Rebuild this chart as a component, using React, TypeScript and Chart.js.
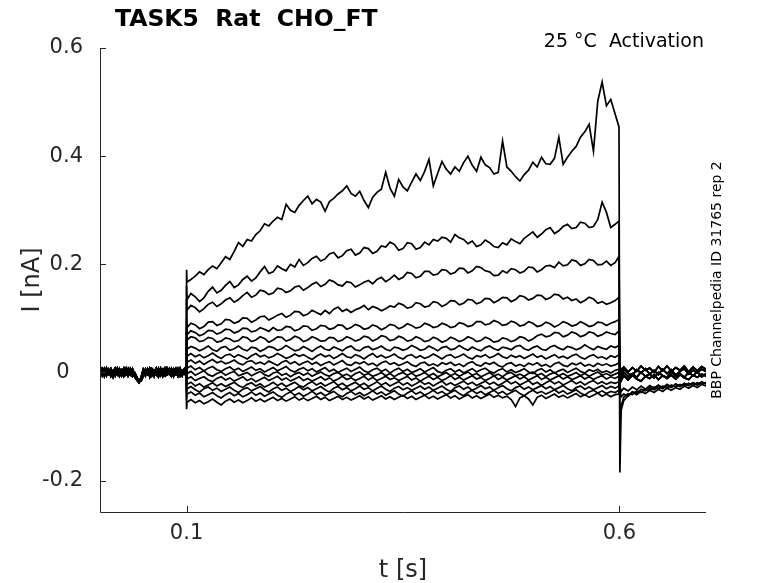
import { useEffect, useRef } from "react"
import { Chart, registerables } from "chart.js"

Chart.register(...registerables)

// axis ticks
const X_TICKS = [0.1, 0.6]
const Y_TICKS = [-0.2, 0, 0.2, 0.4, 0.6]

// all current values below are in pA (converted to nA for the plot)

// holding period before the step (s) and baseline noise shapes
const PRE_T = [
  0, 0.0025, 0.005, 0.0075, 0.01, 0.0125, 0.015, 0.0175, 0.02, 0.0225,
  0.025, 0.0275, 0.03, 0.0325, 0.035, 0.0375, 0.04, 0.0425, 0.045, 0.0475,
  0.05, 0.0525, 0.055, 0.0575, 0.06, 0.0625, 0.065, 0.0675, 0.07, 0.0725,
  0.075, 0.0775, 0.08, 0.0825, 0.085, 0.0875, 0.09, 0.0925, 0.095, 0.0975,
  0.0995,
]
const BASE_A = [3, -6, 7, -3, 4, -7, 1, 8, -4, 3, -6, 6, -1, 7, -4, 3, -3, -10, -17, -14, -4, 6, -3, 7, -6, 1, 8, -4, 3, -7, 4, -1, 7, -6, 3, 8, -3, 4, -6, 6, 0]
const BASE_B = [-4, 4, -7, 6, -1, 7, -6, 3, 8, -3, 4, -7, 1, -4, 7, -3, -8, -14, -19, -11, 3, -6, 7, -1, 4, -7, 3, -4, 8, -1, -6, 6, -3, 7, -4, 1, -7, 4, -1, 7, 0]
const BASE_C = [7, 0, -4, 8, -3, 4, -8, 6, -1, 7, -4, 1, 8, -6, 3, -7, 0, -8, -17, -16, -7, 4, -3, 8, 0, -6, 4, -8, 1, 6, -4, 8, -1, -7, 6, -3, 7, -6, 3, -3, 1]
const BASE_D = [-1, 8, 3, -6, 6, -1, 4, -6, 7, -7, 1, 8, -4, 4, -1, 7, -6, -12, -18, -9, 6, -1, 4, -8, 7, 3, -4, 7, -6, 0, 8, -4, 1, 6, -7, 4, 0, 8, -4, 1, -1]

// test pulse sample times (s)
const STEP_T = [
  0.1, 0.1005, 0.105, 0.11, 0.115, 0.12, 0.125, 0.13, 0.135, 0.14,
  0.145, 0.15, 0.155, 0.16, 0.165, 0.17, 0.175, 0.18, 0.185, 0.19,
  0.195, 0.2, 0.205, 0.21, 0.215, 0.22, 0.225, 0.23, 0.235, 0.24,
  0.245, 0.25, 0.255, 0.26, 0.265, 0.27, 0.275, 0.28, 0.285, 0.29,
  0.295, 0.3, 0.305, 0.31, 0.315, 0.32, 0.325, 0.33, 0.335, 0.34,
  0.345, 0.35, 0.355, 0.36, 0.365, 0.37, 0.375, 0.38, 0.385, 0.39,
  0.395, 0.4, 0.405, 0.41, 0.415, 0.42, 0.425, 0.43, 0.435, 0.44,
  0.445, 0.45, 0.455, 0.46, 0.465, 0.47, 0.475, 0.48, 0.485, 0.49,
  0.495, 0.5, 0.505, 0.51, 0.515, 0.52, 0.525, 0.53, 0.535, 0.54,
  0.545, 0.55, 0.555, 0.56, 0.565, 0.57, 0.575, 0.58, 0.585, 0.59,
  0.595, 0.5995,
]

const SWEEP_1 = [
  190, 167, 172, 178, 186, 181, 190, 197, 192, 203,
  214, 209, 224, 240, 233, 246, 243, 255, 262, 275,
  271, 280, 287, 283, 311, 300, 296, 309, 318, 326,
  312, 320, 315, 298, 316, 322, 330, 336, 345, 331,
  326, 335, 318, 305, 324, 333, 339, 370, 341, 326,
  357, 343, 336, 352, 367, 355, 372, 394, 345, 368,
  390, 376, 367, 380, 372, 388, 400, 383, 372, 398,
  384, 379, 367, 370, 428, 380, 372, 362, 354, 366,
  374, 389, 380, 398, 386, 385, 396, 435, 385, 398,
  409, 418, 435, 445, 459, 409, 502, 537, 493, 505,
  478, 454,
]
const SWEEP_2 = [
  160, 135, 146, 140, 131, 138, 150, 158, 147, 152,
  161, 168, 157, 162, 172, 178, 169, 175, 186, 196,
  183, 186, 197, 192, 188, 200, 195, 209, 198, 203,
  211, 215, 206, 210, 219, 222, 212, 216, 225, 228,
  217, 221, 231, 229, 220, 224, 234, 232, 241, 237,
  226, 229, 240, 238, 228, 231, 241, 236, 246, 243,
  250, 248, 241, 255, 249, 246, 238, 243, 233, 236,
  245, 240, 233, 231, 240, 236, 247, 242, 238, 248,
  254, 260, 250, 256, 264, 268, 257, 262, 270, 274,
  266, 268, 278, 276, 268, 270, 283, 315, 296, 268,
  274, 280,
]
const SWEEP_3 = [
  135, 115, 124, 120, 112, 118, 126, 130, 122, 127,
  134, 138, 130, 135, 142, 148, 139, 143, 152, 150,
  144, 147, 156, 154, 148, 151, 158, 160, 152, 157,
  163, 167, 159, 163, 171, 168, 162, 160, 168, 166,
  158, 162, 167, 170, 164, 172, 176, 168, 173, 180,
  172, 176, 185, 183, 175, 178, 187, 187, 180, 182,
  190, 189, 182, 185, 193, 192, 184, 188, 196, 194,
  188, 186, 179, 180, 188, 184, 192, 190, 184, 187,
  195, 194, 186, 190, 197, 198, 194, 204, 197, 199,
  208, 206, 198, 201, 209, 207, 199, 200, 206, 198,
  203, 215,
]
const SWEEP_4 = [
  100, 83, 91, 88, 81, 85, 93, 94, 87, 90,
  98, 97, 91, 94, 101, 100, 93, 97, 103, 104,
  97, 101, 106, 109, 102, 106, 113, 112, 105, 108,
  115, 111, 107, 115, 109, 117, 121, 113, 117, 111,
  116, 119, 124, 116, 122, 119, 114, 118, 123, 121,
  128, 125, 119, 121, 129, 127, 121, 123, 131, 129,
  122, 126, 133, 132, 125, 128, 135, 134, 127, 130,
  137, 136, 129, 133, 139, 138, 131, 135, 142, 140,
  134, 137, 143, 142, 135, 138, 145, 143, 136, 139,
  133, 136, 129, 133, 139, 136, 128, 131, 126, 129,
  133, 139,
]
const SWEEP_5 = [
  85, 70, 77, 74, 68, 71, 78, 77, 71, 74,
  80, 79, 73, 76, 82, 81, 75, 77, 83, 80,
  76, 83, 78, 79, 85, 84, 77, 80, 86, 85,
  78, 81, 87, 86, 80, 82, 88, 87, 80, 83,
  89, 86, 80, 82, 88, 85, 79, 83, 89, 87,
  81, 84, 90, 87, 82, 84, 91, 88, 83, 85,
  91, 88, 83, 85, 92, 90, 85, 87, 94, 94,
  88, 90, 96, 93, 87, 89, 95, 92, 86, 88,
  94, 91, 85, 87, 93, 90, 84, 88, 94, 91,
  86, 88, 94, 90, 85, 87, 93, 92, 87, 91,
  94, 98,
]
const SWEEP_6 = [
  75, 60, 66, 64, 57, 59, 65, 63, 56, 58,
  64, 62, 57, 59, 66, 64, 57, 60, 66, 63,
  56, 60, 66, 65, 58, 61, 67, 64, 57, 60,
  66, 63, 58, 59, 65, 64, 57, 60, 66, 63,
  58, 61, 67, 65, 58, 62, 68, 66, 59, 61,
  67, 64, 58, 60, 66, 63, 57, 59, 65, 62,
  56, 59, 65, 62, 57, 60, 66, 63, 57, 59,
  65, 62, 56, 58, 64, 62, 57, 60, 66, 64,
  58, 62, 68, 71, 66, 68, 74, 73, 66, 69,
  75, 72, 66, 69, 75, 73, 67, 70, 75, 72,
  70, 77,
]
const SWEEP_7 = [
  60, 43, 48, 45, 40, 44, 49, 42, 39, 46,
  48, 41, 44, 49, 43, 40, 47, 45, 39, 43,
  48, 46, 41, 44, 50, 45, 40, 42, 48, 44,
  39, 45, 49, 43, 41, 47, 44, 40, 46, 49,
  42, 40, 46, 48, 42, 45, 49, 43, 40, 47,
  45, 41, 44, 50, 46, 41, 43, 49, 45, 40,
  46, 48, 42, 44, 50, 45, 41, 47, 43, 40,
  46, 49, 44, 41, 47, 45, 42, 48, 50, 44,
  41, 46, 49, 43, 41, 47, 50, 45, 42, 48,
  46, 42, 45, 51, 46, 42, 48, 45, 43, 49,
  46, 50,
]
const SWEEP_8 = [
  45, 30, 35, 29, 33, 27, 31, 36, 30, 26,
  32, 34, 28, 33, 29, 25, 31, 35, 29, 32,
  27, 30, 35, 31, 26, 29, 34, 30, 33, 28,
  24, 30, 34, 29, 32, 26, 30, 35, 29, 27,
  33, 30, 25, 31, 35, 28, 32, 27, 30, 34,
  28, 25, 31, 33, 27, 31, 26, 29, 34, 30,
  25, 31, 33, 27, 30, 34, 28, 25, 31, 29,
  33, 27, 30, 35, 29, 26, 32, 28, 31, 26,
  30, 34, 28, 31, 25, 29, 33, 27, 30, 26,
  31, 34, 28, 25, 30, 33, 27, 29, 25, 31,
  28, 33,
]
const SWEEP_9 = [
  30, 19, 23, 17, 21, 15, 20, 24, 18, 21,
  16, 19, 23, 17, 14, 20, 22, 16, 19, 15,
  21, 17, 13, 19, 22, 16, 20, 14, 18, 21,
  15, 19, 13, 17, 20, 14, 18, 22, 15, 13,
  19, 16, 20, 14, 17, 12, 18, 21, 15, 18,
  13, 16, 20, 14, 11, 17, 19, 13, 16, 12,
  18, 15, 19, 13, 16, 11, 17, 20, 14, 12,
  18, 15, 19, 13, 10, 16, 18, 12, 15, 11,
  17, 14, 18, 12, 15, 10, 16, 19, 13, 11,
  17, 14, 18, 12, 15, 11, 17, 13, 16, 12,
  14, 18,
]
const SWEEP_10 = [
  20, 8, 12, 5, 9, 3, 8, 11, 5, 2,
  7, 10, 4, 8, 2, 6, 10, 4, 7, 1,
  5, 9, 3, 7, 11, 4, 1, 6, 9, 3,
  7, 1, 5, 9, 2, 6, 0, 4, 8, 2,
  6, 10, 3, 0, 5, 8, 2, 6, -1, 4,
  8, 2, 6, 0, 3, 7, 1, 5, 9, 2,
  -1, 4, 7, 1, 5, -1, 3, 7, 1, 5,
  8, 2, -1, 4, 7, 1, 5, 0, 3, 7,
  1, -2, 4, 7, 1, 5, -1, 3, 6, 0,
  4, 8, 2, -1, 5, 2, 6, 0, 3, -1,
  4, 6,
]
const SWEEP_11 = [
  5, -2, 2, -5, -1, 3, -4, -7, -2, 1,
  -5, -1, 2, -6, -3, 0, -6, -2, 2, -4,
  -7, -1, 1, -5, -2, -8, -3, 0, -5, -1,
  -7, -3, 1, -4, -7, -2, 0, -6, -3, -8,
  -2, 1, -5, -2, -7, -4, 0, -6, -2, -8,
  -3, 0, -5, -1, -7, -4, 0, -6, -2, -8,
  -4, 0, -6, -2, -7, -3, 1, -5, -2, -8,
  -4, 0, -6, -3, -8, -2, 0, -6, -3, -7,
  -2, 1, -5, -2, -8, -3, 0, -6, -2, -7,
  -4, 0, -6, -2, -7, -3, 1, -5, -2, -6,
  -3, 0,
]
const SWEEP_12 = [
  -5, -12, -8, -15, -11, -8, -14, -17, -11, -8,
  -14, -10, -16, -12, -8, -15, -11, -17, -13, -9,
  -15, -11, -7, -14, -10, -16, -12, -8, -15, -11,
  -16, -12, -8, -14, -10, -16, -12, -7, -13, -10,
  -15, -11, -7, -14, -9, -15, -11, -7, -13, -10,
  -15, -11, -7, -14, -10, -16, -11, -7, -13, -9,
  -15, -11, -6, -13, -9, -14, -10, -6, -12, -9,
  -15, -11, -6, -13, -9, -14, -10, -6, -12, -8,
  -14, -10, -6, -13, -9, -14, -10, -6, -12, -8,
  -13, -10, -6, -12, -8, -13, -9, -6, -12, -8,
  -11, -7,
]
const SWEEP_13 = [
  -20, -22, -18, -25, -21, -27, -23, -19, -25, -21,
  -26, -22, -18, -24, -28, -22, -19, -25, -21, -27,
  -23, -18, -24, -20, -26, -22, -18, -24, -27, -21,
  -17, -23, -19, -25, -21, -17, -24, -20, -26, -22,
  -18, -24, -20, -26, -22, -17, -23, -19, -25, -21,
  -17, -23, -19, -25, -21, -16, -22, -19, -25, -20,
  -16, -23, -19, -24, -20, -16, -22, -18, -24, -20,
  -16, -22, -18, -24, -20, -15, -21, -17, -23, -19,
  -15, -22, -18, -24, -19, -15, -21, -17, -23, -19,
  -15, -21, -17, -23, -18, -15, -21, -17, -22, -18,
  -20, -17,
]
const SWEEP_14 = [
  -35, -30, -26, -32, -36, -30, -27, -33, -29, -35,
  -31, -27, -33, -37, -31, -28, -34, -30, -26, -32,
  -36, -30, -27, -33, -29, -35, -31, -26, -32, -28,
  -34, -30, -26, -32, -36, -29, -26, -32, -28, -34,
  -30, -25, -31, -28, -34, -29, -25, -31, -35, -29,
  -26, -32, -28, -33, -29, -25, -31, -27, -33, -29,
  -25, -31, -35, -28, -25, -31, -27, -33, -29, -24,
  -30, -27, -33, -28, -24, -30, -34, -28, -25, -31,
  -27, -32, -28, -24, -30, -26, -32, -28, -24, -30,
  -34, -28, -25, -31, -27, -32, -28, -24, -30, -26,
  -29, -25,
]
const SWEEP_15 = [
  -50, -40, -36, -42, -38, -45, -41, -37, -43, -47,
  -41, -37, -43, -39, -45, -41, -36, -42, -38, -44,
  -40, -36, -42, -46, -40, -36, -42, -38, -44, -40,
  -35, -41, -37, -43, -39, -35, -41, -45, -39, -35,
  -41, -37, -43, -39, -34, -40, -36, -42, -38, -34,
  -40, -44, -38, -34, -40, -36, -42, -38, -33, -39,
  -35, -41, -37, -33, -39, -43, -37, -33, -39, -35,
  -41, -37, -33, -39, -35, -41, -37, -33, -39, -43,
  -37, -33, -38, -35, -40, -36, -32, -38, -34, -40,
  -36, -32, -38, -42, -36, -33, -38, -34, -39, -35,
  -37, -33,
]
const SWEEP_16 = [
  -68, -55, -50, -56, -52, -58, -54, -49, -55, -60,
  -53, -49, -55, -51, -56, -52, -47, -53, -49, -54,
  -50, -46, -52, -48, -53, -49, -45, -51, -47, -52,
  -48, -44, -50, -46, -52, -48, -44, -50, -46, -51,
  -47, -43, -49, -45, -51, -47, -43, -49, -45, -50,
  -46, -42, -48, -44, -50, -46, -42, -48, -44, -49,
  -45, -41, -47, -43, -49, -45, -41, -47, -43, -48,
  -44, -40, -46, -42, -47, -44, -50, -63, -47, -43,
  -49, -60, -46, -42, -48, -44, -40, -46, -42, -47,
  -43, -39, -45, -41, -46, -42, -38, -44, -40, -45,
  -41, -40,
]

// after the pulse (s) and the tail shapes
const TAIL_T = [0.6005, 0.602, 0.605, 0.61, 0.615, 0.62, 0.625, 0.63, 0.635, 0.64, 0.645, 0.65, 0.655, 0.66, 0.665, 0.67, 0.675, 0.68, 0.685, 0.69, 0.695, 0.7]
const TAIL_HI = [12, 3, 10, 1, 9, 2, 12, 4, 8, 0, 11, 3, 12, 2, 9, 4, 12, 1, 10, 3, 11, 6]
const TAIL_UP = [4, -4, 6, -2, -5, 5, -1, 7, -3, 4, -4, 6, -2, 5, -5, 2, 7, -3, 4, -1, 6, 2]
const TAIL_MID = [-4, -10, 0, -8, -2, -9, 1, -7, -3, -10, 0, -6, -9, 1, -7, -2, -9, 0, -6, 1, -8, -2]
const TAIL_DN = [-8, -15, -6, -14, -5, -12, -16, -7, -11, -4, -13, -6, -11, -5, -12, -4, -10, -13, -5, -9, -3, -7]
const TAIL_LOW = [-25, -35, -29, -34, -27, -32, -25, -31, -24, -29, -23, -28, -22, -27, -21, -26, -20, -24, -19, -23, -17, -21]
const TAIL_LOWER = [-30, -45, -40, -44, -36, -41, -35, -39, -33, -37, -31, -35, -29, -33, -28, -31, -25, -29, -24, -28, -22, -25]
const TAIL_SPIKE = [-185, -70, -52, -43, -36, -38, -31, -34, -28, -32, -26, -30, -24, -28, -22, -26, -21, -24, -19, -23, -18, -21]
const TAIL_SPIKE2 = [-95, -62, -46, -39, -41, -34, -37, -31, -33, -27, -31, -25, -29, -23, -27, -22, -25, -20, -24, -19, -22, -18]

const SWEEPS = [
  { v: SWEEP_1, base: BASE_A, tail: TAIL_SPIKE },
  { v: SWEEP_2, base: BASE_B, tail: TAIL_SPIKE2 },
  { v: SWEEP_3, base: BASE_C, tail: TAIL_LOWER },
  { v: SWEEP_4, base: BASE_D, tail: TAIL_LOW },
  { v: SWEEP_5, base: BASE_A, tail: TAIL_DN },
  { v: SWEEP_6, base: BASE_B, tail: TAIL_HI },
  { v: SWEEP_7, base: BASE_C, tail: TAIL_MID },
  { v: SWEEP_8, base: BASE_D, tail: TAIL_UP },
  { v: SWEEP_9, base: BASE_A, tail: TAIL_HI },
  { v: SWEEP_10, base: BASE_B, tail: TAIL_DN },
  { v: SWEEP_11, base: BASE_C, tail: TAIL_MID },
  { v: SWEEP_12, base: BASE_D, tail: TAIL_UP },
  { v: SWEEP_13, base: BASE_A, tail: TAIL_HI },
  { v: SWEEP_14, base: BASE_B, tail: TAIL_MID },
  { v: SWEEP_15, base: BASE_C, tail: TAIL_UP },
  { v: SWEEP_16, base: BASE_D, tail: TAIL_DN },
]

const AXIS_COLOR = "#262626"
const FONT = "'DejaVu Sans', sans-serif"

// pA -> nA
const toPoints = (times: number[], values: number[]) =>
  values.slice(0, times.length).map((pA, i) => ({ x: times[i], y: pA / 1000 }))

// MATLAB-like axes: left/bottom lines, inward ticks, labels and annotations
const matlabAxes = {
  id: "matlabAxes",
  afterDraw(chart: Chart) {
    const { ctx, chartArea: a, scales } = chart
    ctx.save()
    ctx.strokeStyle = AXIS_COLOR
    ctx.lineWidth = 1
    ctx.beginPath()
    ctx.moveTo(a.left + 0.5, a.top)
    ctx.lineTo(a.left + 0.5, a.bottom + 0.5)
    ctx.lineTo(a.right, a.bottom + 0.5)
    for (const v of Y_TICKS) {
      const y = Math.round(scales.y.getPixelForValue(v)) + 0.5
      ctx.moveTo(a.left, y)
      ctx.lineTo(a.left + 6, y)
    }
    for (const v of X_TICKS) {
      const x = Math.round(scales.x.getPixelForValue(v)) + 0.5
      ctx.moveTo(x, a.bottom)
      ctx.lineTo(x, a.bottom - 6)
    }
    ctx.stroke()

    ctx.fillStyle = "#000"
    ctx.textBaseline = "alphabetic"
    ctx.font = `bold 23.5px ${FONT}`
    ctx.textAlign = "left"
    ctx.fillText("TASK5  Rat  CHO_FT", 115, 26)

    ctx.font = `19px ${FONT}`
    ctx.textAlign = "right"
    ctx.fillText("25 °C  Activation", 704, 47)

    ctx.fillStyle = AXIS_COLOR
    ctx.font = `24px ${FONT}`
    ctx.textAlign = "center"
    ctx.fillText("t [s]", (a.left + a.right) / 2, 577)

    ctx.save()
    ctx.translate(39, (a.top + a.bottom) / 2)
    ctx.rotate(-Math.PI / 2)
    ctx.fillText("I [nA]", 0, 0)
    ctx.restore()

    ctx.fillStyle = "#000"
    ctx.save()
    ctx.translate(721, (a.top + a.bottom) / 2)
    ctx.rotate(-Math.PI / 2)
    ctx.font = `14px ${FONT}`
    ctx.fillText("BBP Channelpedia ID 31765 rep 2", 0, 0)
    ctx.restore()

    ctx.restore()
  },
}

export default function App() {
  const canvasRef = useRef<HTMLCanvasElement>(null)
  const chartRef = useRef<Chart | null>(null)

  useEffect(() => {
    if (!canvasRef.current) return
    if (chartRef.current) chartRef.current.destroy()

    const datasets = SWEEPS.map((s, i) => ({
      label: `sweep ${i + 1}`,
      data: [
        ...toPoints(PRE_T, s.base),
        ...toPoints(STEP_T, s.v),
        ...toPoints(TAIL_T, s.tail),
      ],
      borderColor: "#000",
      borderWidth: 1.7,
      pointRadius: 0,
      tension: 0,
      fill: false,
    }))

    chartRef.current = new Chart(canvasRef.current, {
      type: "line",
      data: { datasets },
      options: {
        animation: false,
        responsive: true,
        maintainAspectRatio: false,
        layout: { padding: { left: 0, right: 72, top: 48, bottom: 0 } },
        plugins: {
          legend: { display: false },
          tooltip: { enabled: false },
        },
        scales: {
          x: {
            type: "linear",
            min: 0,
            max: 0.7,
            grid: { display: false, drawTicks: false },
            border: { display: false },
            afterBuildTicks: (scale) => {
              scale.ticks = X_TICKS.map((value) => ({ value }))
            },
            afterFit: (scale) => {
              scale.height = 71
            },
            ticks: {
              color: AXIS_COLOR,
              padding: 9,
              maxRotation: 0,
              font: { family: FONT, size: 21 },
              callback: (value) => String(value),
            },
          },
          y: {
            type: "linear",
            min: -0.258,
            max: 0.6,
            grid: { display: false, drawTicks: false },
            border: { display: false },
            afterBuildTicks: (scale) => {
              scale.ticks = Y_TICKS.map((value) => ({ value }))
            },
            afterFit: (scale) => {
              scale.width = 100
            },
            ticks: {
              color: AXIS_COLOR,
              padding: 17,
              font: { family: FONT, size: 21 },
              // the zero label sits further left in the original
              callback: (value) => (value === 0 ? "0  " : String(value)),
            },
          },
        },
      },
      plugins: [matlabAxes],
    })

    return () => {
      if (chartRef.current) {
        chartRef.current.destroy()
        chartRef.current = null
      }
    }
  }, [])

  return (
    <div style={{ position: "fixed", left: 0, top: 0, width: 778, height: 583, background: "#fff" }}>
      <canvas ref={canvasRef} />
    </div>
  )
}
